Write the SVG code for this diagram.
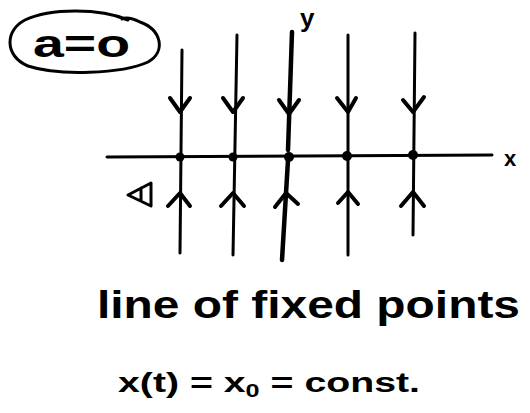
<svg xmlns="http://www.w3.org/2000/svg" width="530" height="413" viewBox="0 0 530 413">
<defs>
<style>
.ln{stroke:#000;stroke-width:3;fill:none;stroke-linecap:round;stroke-linejoin:round}
.thick{stroke-width:4.5}
.ah{stroke:#000;stroke-width:4;fill:none;stroke-linecap:round;stroke-linejoin:round}
.t{font-family:"Liberation Sans",Arial,sans-serif;fill:#000}
</style>
</defs>
<rect width="530" height="413" fill="#fff"/>
<g id="label-a">
<path class="ln" d="M128,20 C100,8 50,8 25,20 C5,30 4,56 28,66 C58,76 122,74 148,62 C166,52 162,30 140,22 C132,18 126,17 122,19" />
<text class="t" x="33" y="57" font-size="38" font-weight="bold" textLength="97" lengthAdjust="spacingAndGlyphs">a=o</text>
</g>
<g id="axes">
<line class="ln" x1="107" y1="157" x2="492" y2="155"/>
<text class="t" x="504" y="166" font-size="22" font-weight="bold">x</text>
<text class="t" x="300" y="27" font-size="26" font-weight="bold">y</text>
</g>
<g id="connectors">
<path class="ln" d="M182,50 L180,253"/>
<path class="ln" d="M237,35 L233,255"/>
<path class="ln thick" d="M292,32 L288,150 M288,160 L282,260"/>
<path class="ln" d="M348,35 L348,255"/>
<path class="ln" d="M415,33 L413,235"/>
<path class="ah" d="M170,98 L180,112 L190,98"/>
<path class="ah" d="M223,98 L233,112 L243,98"/>
<path class="ah" d="M279,100 L289,114 L299,100"/>
<path class="ah" d="M337,98 L348,112 L356,98"/>
<path class="ah" d="M403,100 L413,112 L424,97"/>
<path class="ah" d="M168,206 L180,193 L190,206"/>
<path class="ah" d="M221,206 L233,193 L244,206"/>
<path class="ah" d="M275,207 L286,193 L298,204"/>
<path class="ah" d="M338,203 L348,192 L358,204"/>
<path class="ah" d="M401,206 L413,192 L424,206"/>
</g>
<g id="fp1"><circle cx="180" cy="157" r="4.5"/></g>
<g id="fp2"><circle cx="233" cy="157" r="4.5"/></g>
<g id="fp3"><circle cx="289" cy="157" r="5"/></g>
<g id="fp4"><circle cx="347" cy="156" r="5"/></g>
<g id="fp5"><circle cx="413" cy="155" r="5"/></g>
<g id="mark">
<path class="ln" d="M151,183 L128,195 L151,206 Z M141,188 L141,201"/>
</g>
<g id="caption">
<text class="t" x="97" y="318" font-size="38" font-weight="bold" textLength="423" lengthAdjust="spacingAndGlyphs">line of fixed points</text>
<text class="t" x="118" y="392" font-size="28" font-weight="bold" textLength="302" lengthAdjust="spacingAndGlyphs">x(t) = x<tspan font-size="18" dy="5">0</tspan><tspan dy="-5"> = const.</tspan></text>
</g>
</svg>
